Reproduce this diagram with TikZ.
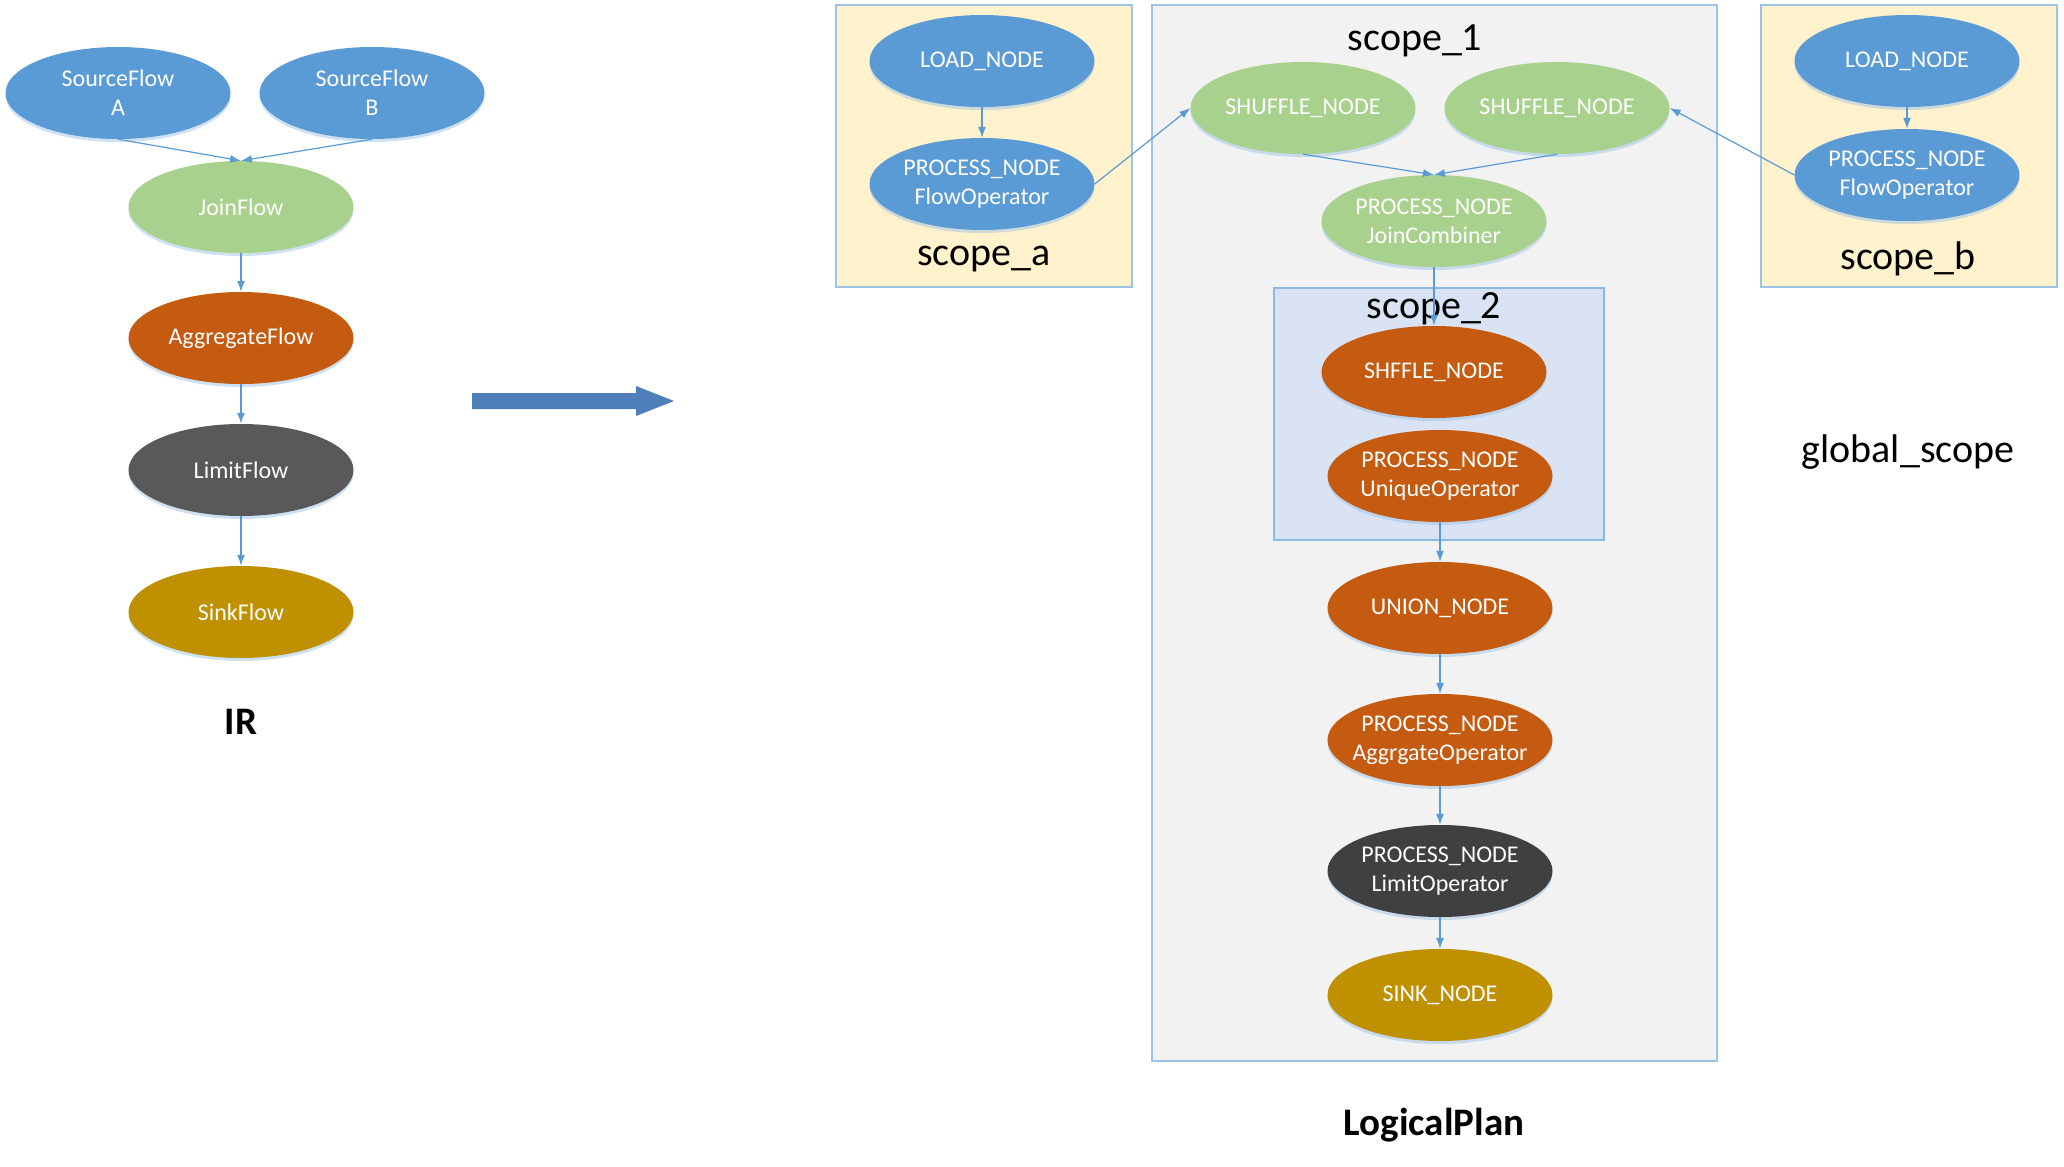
\documentclass[tikz,border=0pt]{standalone}
\usepackage{fontspec}
\setmainfont{Carlito}
\usepackage{tikz}
\usetikzlibrary{positioning, shapes.geometric, arrows.meta, shadows}
\definecolor{flowblue}{HTML}{5B9BD5}
\definecolor{flowgreen}{HTML}{A9D18E}
\definecolor{floworange}{HTML}{C55A11}
\definecolor{flowgray}{HTML}{595959}
\definecolor{flowdark}{HTML}{404040}
\definecolor{flowgold}{HTML}{BF9000}
\definecolor{scopeyellow}{HTML}{FFF2CC}
\definecolor{scopegray}{HTML}{F2F2F2}
\definecolor{scopeblue}{HTML}{DAE3F3}
\definecolor{scopeline}{HTML}{9DC3E6}
\definecolor{bigarrow}{HTML}{4E7FBA}
\tikzset{node/.style = {ellipse, minimum width=225pt, minimum height=92pt, inner sep=0pt, text=white, align=center,
    font=\fontsize{24}{29}\selectfont,
    drop shadow={shadow xshift=0pt, shadow yshift=-3pt, fill=scopeline, opacity=0.5}}}
\tikzset{link/.style = {draw=flowblue, line width=1.2pt, -{Latex[length=11pt,width=8pt]}}}
\tikzset{scopebox/.style = {draw=scopeline, line width=1.5pt}}
\tikzset{scopelabel/.style = {font=\fontsize{40}{48}\selectfont}}
\tikzset{title/.style = {font=\fontsize{39}{47}\selectfont\bfseries}}

\begin{document}
\begin{tikzpicture}[x=1pt, y=-1pt]
        \useasboundingbox (0,0) rectangle (2064,1167);

        % IR
        \begin{scope}
            \node [node, fill=flowblue]   (srcA)  at (118, 93) {SourceFlow\\A};
            \node [node, fill=flowblue]   (srcB)  at (372, 93) {SourceFlow\\B};
            \node [node, fill=flowgreen]  (join)  at (241,207) {JoinFlow};
            \node [node, fill=floworange] (aggr)  at (241,338) {AggregateFlow};
            \node [node, fill=flowgray]   (limit) at (241,470) {LimitFlow};
            \node [node, fill=flowgold]   (sink)  at (241,612) {SinkFlow};
            \node [title] (ir) at (241,722) {IR};

            \draw [link] (srcA.south) -- (join.north);
            \draw [link] (srcB.south) -- (join.north);
            \draw [link] (join) -- (aggr);
            \draw [link] (aggr) -- (limit);
            \draw [link] (limit) -- (sink);
        \end{scope}

        \fill [bigarrow] (472,393) -- (636,393) -- (636,386) -- (674,401) -- (636,416) -- (636,409) -- (472,409) -- cycle;

        % LogicalPlan
        \begin{scope}
            \draw [scopebox, fill=scopeyellow] (836,5) rectangle (1132,287);
            \draw [scopebox, fill=scopegray] (1152,5) rectangle (1717,1061);
            \draw [scopebox, fill=scopeyellow] (1761,5) rectangle (2057,287);
            \draw [scopebox, draw=flowblue!70, fill=scopeblue] (1274,288) rectangle (1604,540);

            \node [scopelabel] (scopeA) at (984,259) {scope\_a};
            \node [scopelabel] (scopeB) at (1908,259) {scope\_b};
            \node [scopelabel] (scope1) at (1415,41) {scope\_1};
            \node [scopelabel] (scope2) at (1434,309) {scope\_2};
            \node [scopelabel] (global) at (1908,452) {global\_scope};

            \node [node, fill=flowblue]   (loadA)   at ( 982, 61) {LOAD\_NODE};
            \node [node, fill=flowblue]   (procA)   at ( 982,184) {PROCESS\_NODE\\FlowOperator};
            \node [node, fill=flowblue]   (loadB)   at (1907, 61) {LOAD\_NODE};
            \node [node, fill=flowblue]   (procB)   at (1907,175) {PROCESS\_NODE\\FlowOperator};
            \node [node, fill=flowgreen]  (shufL)   at (1303,108) {SHUFFLE\_NODE};
            \node [node, fill=flowgreen]  (shufR)   at (1557,108) {SHUFFLE\_NODE};
            \node [node, fill=flowgreen]  (joinC)   at (1434,221) {PROCESS\_NODE\\JoinCombiner};
            \node [node, fill=floworange] (shffle)  at (1434,372) {SHFFLE\_NODE};
            \node [node, fill=floworange] (unique)  at (1440,476) {PROCESS\_NODE\\UniqueOperator};
            \node [node, fill=floworange] (union)   at (1440,608) {UNION\_NODE};
            \node [node, fill=floworange, inner xsep=-10pt] (aggrOp) at (1440,740) {PROCESS\_NODE\\AggrgateOperator};
            \node [node, fill=flowdark]   (limitOp) at (1440,871) {PROCESS\_NODE\\LimitOperator};
            \node [node, fill=flowgold]   (sinkN)   at (1440,995) {SINK\_NODE};
            \node [title] (plan) at (1434,1125) {LogicalPlan};

            \draw [link] (loadA) -- (procA);
            \draw [link] (loadB) -- (procB);
            \draw [link] (procA.east) -- (shufL.west);
            \draw [link] (procB.west) -- (shufR.east);
            \draw [link] (shufL.south) -- (joinC.north);
            \draw [link] (shufR.south) -- (joinC.north);
            \draw [link] (joinC) -- (shffle);
            \draw [link] (unique) -- (union);
            \draw [link] (union) -- (aggrOp);
            \draw [link] (aggrOp) -- (limitOp);
            \draw [link] (limitOp) -- (sinkN);
        \end{scope}
    \end{tikzpicture}
\end{document}
